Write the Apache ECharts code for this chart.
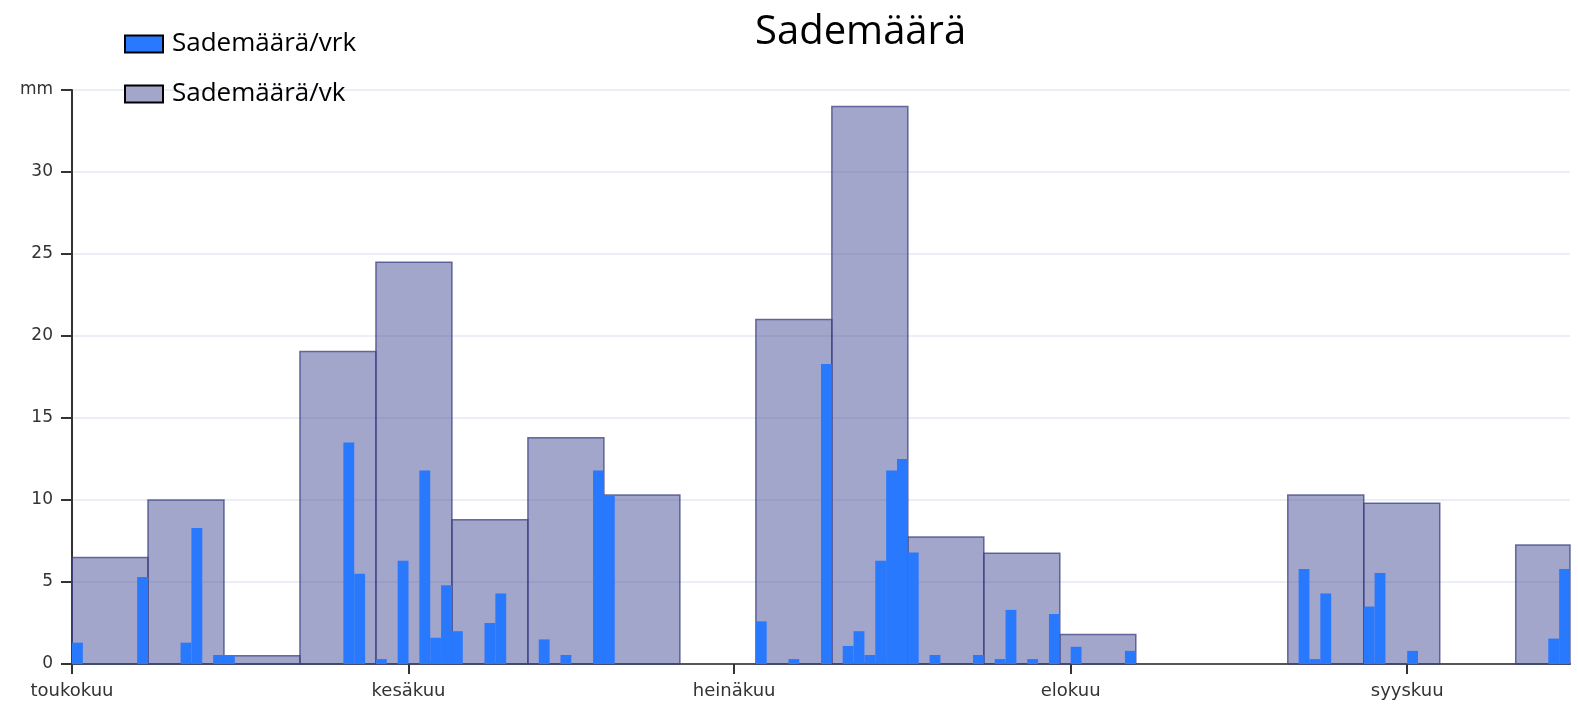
<!DOCTYPE html>
<html>
<head>
<meta charset="utf-8">
<script src="https://cdn.jsdelivr.net/npm/echarts@6/dist/echarts.min.js"></script>
<style>
html,body{margin:0;padding:0;background:#fff;}
#chart{width:1578px;height:705px;}
</style>
</head>
<body>
<div id="chart"></div>
<script>
// ---- data ----
var titleText = 'Sademäärä';
var seriesNames = ['Sademäärä/vrk', 'Sademäärä/vk'];
var yAxisUnit = 'mm';

// daily precipitation (mm), date 'MM-DD' in 2023
var dailyDates = ['05-01','05-07','05-11','05-12','05-14','05-15','05-26','05-27','05-29','05-31',
  '06-02','06-03','06-04','06-05','06-08','06-09','06-13','06-15','06-18','06-19',
  '07-03','07-06','07-09','07-11','07-12','07-13','07-14','07-15','07-16','07-17','07-19','07-23','07-25','07-26','07-28','07-30',
  '08-01','08-06','08-22','08-23','08-24','08-28','08-29','09-01','09-14','09-15'];
var dailyValues = [1.3,5.3,1.3,8.3,0.55,0.55,13.5,5.5,0.3,6.3,
  11.8,1.6,4.8,2.0,2.5,4.3,1.5,0.55,11.8,10.3,
  2.6,0.3,18.3,1.1,2.0,0.55,6.3,11.8,12.5,6.8,0.55,0.55,0.3,3.3,0.3,3.05,
  1.05,0.8,5.8,0.3,4.3,3.5,5.55,0.8,1.55,5.8];

// weekly precipitation (mm), week start date (Monday)
var weekStarts = ['05-01','05-08','05-15','05-22','05-29','06-05','06-12','06-19','07-03','07-10','07-17','07-24','07-31','08-21','08-28','09-11'];
var weeklyValues = [6.5,10.0,0.5,19.05,24.5,8.8,13.8,10.3,21.0,34.0,7.75,6.75,1.8,10.3,9.8,7.25];

// x axis: month starts and labels
var monthStarts = ['05-01','06-01','07-01','08-01','09-01'];
var monthLabels = ['toukokuu','kesäkuu','heinäkuu','elokuu','syyskuu'];
var axisStart = '05-01';
var axisEnd = '09-16';
var YEAR = 2023;

// ---- helpers: dates -> days since axis start (UTC, no DST) ----
function dayNum(md) {
  var p = md.split('-');
  return Date.UTC(YEAR, parseInt(p[0], 10) - 1, parseInt(p[1], 10)) / 86400000;
}
var day0 = dayNum(axisStart);
function dayIdx(md) { return dayNum(md) - day0; }

var dailyData = dailyDates.map(function (d, i) { return [dayIdx(d), dayIdx(d) + 1, dailyValues[i]]; });
var weeklyData = weekStarts.map(function (d, i) { return [dayIdx(d), dayIdx(d) + 7, weeklyValues[i]]; });
var monthTicks = monthStarts.map(dayIdx);

function makeRender(styleFn) {
  return function (params, api) {
    var p1 = api.coord([api.value(0), api.value(2)]);
    var p2 = api.coord([api.value(1), 0]);
    var cs = params.coordSys;
    var shape = echarts.graphic.clipRectByRect(
      { x: p1[0], y: p1[1], width: p2[0] - p1[0], height: p2[1] - p1[1] },
      { x: cs.x, y: cs.y - 5, width: cs.width, height: cs.height + 5 }
    );
    if (!shape) return null;
    return { type: 'rect', shape: shape, style: styleFn(api) };
  };
}

var dailyColor = '#2979ff';
var weeklyFill = 'rgba(72,77,151,0.5)';

var chart = echarts.init(document.getElementById('chart'), null, { renderer: 'canvas' });
chart.setOption({
  animation: false,
  backgroundColor: '#ffffff',
  title: {
    text: titleText,
    left: 755,
    top: 13,
    padding: 0,
    textStyle: { fontFamily: 'Open Sans', fontSize: 40, fontWeight: 'normal', color: '#000' }
  },
  legend: {
    orient: 'vertical',
    left: 124,
    top: 31,
    padding: 0,
    itemWidth: 38,
    itemHeight: 17,
    itemGap: 24,
    icon: 'rect',
    textStyle: { fontFamily: 'Open Sans', fontSize: 26, color: '#000', padding: [0, 0, 0, 4] },
    data: [
      { name: seriesNames[0], itemStyle: { color: dailyColor, borderColor: '#000', borderWidth: 2 } },
      { name: seriesNames[1], itemStyle: { color: '#a3a6cb', borderColor: '#000', borderWidth: 2 } }
    ]
  },
  grid: { left: 72, right: 8, top: 90, bottom: 41, containLabel: false },
  xAxis: {
    type: 'value',
    min: 0,
    max: dayIdx(axisEnd),
    axisLine: { lineStyle: { color: '#555', width: 2 } },
    axisTick: { show: true, length: 10, lineStyle: { color: '#333', width: 2 }, customValues: monthTicks },
    axisLabel: {
      customValues: monthTicks,
      margin: 18,
      fontFamily: 'DejaVu Sans',
      fontSize: 18,
      color: '#333',
      formatter: function (v) {
        var idx = monthTicks.indexOf(Math.round(v));
        return idx >= 0 ? monthLabels[idx] : '';
      }
    },
    splitLine: { show: false }
  },
  yAxis: {
    type: 'value',
    min: 0,
    max: 35,
    interval: 5,
    axisLine: { show: true, lineStyle: { color: '#333', width: 2 } },
    axisTick: { show: true, length: 11, lineStyle: { color: '#333', width: 2 } },
    axisLabel: {
      margin: 19,
      fontFamily: 'DejaVu Sans',
      fontSize: 17,
      color: '#333',
      formatter: function (v) { return v === 35 ? yAxisUnit : String(v); }
    },
    splitLine: { show: true, lineStyle: { color: '#eceef7', width: 2 } }
  },
  series: [
    {
      name: seriesNames[1],
      type: 'custom',
      z: 2,
      encode: { x: [0, 1], y: 2 },
      data: weeklyData,
      renderItem: makeRender(function () {
        return { fill: weeklyFill, stroke: 'rgba(60,64,130,0.75)', lineWidth: 1.5 };
      }),
      itemStyle: { color: '#a3a6cb' }
    },
    {
      name: seriesNames[0],
      type: 'custom',
      z: 3,
      encode: { x: [0, 1], y: 2 },
      data: dailyData,
      renderItem: makeRender(function () {
        return { fill: dailyColor };
      }),
      itemStyle: { color: dailyColor }
    }
  ]
});
</script>
</body>
</html>
